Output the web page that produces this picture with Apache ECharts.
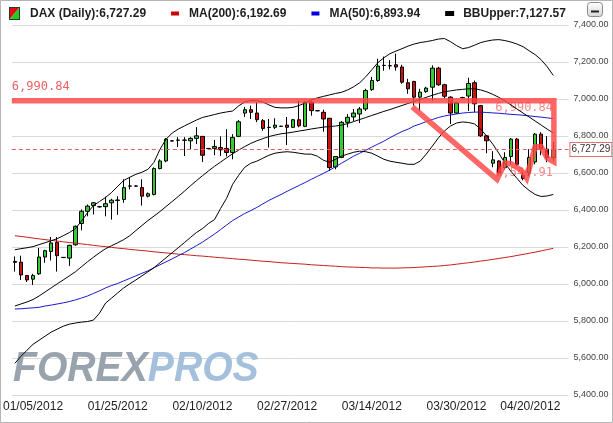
<!DOCTYPE html>
<html><head><meta charset="utf-8">
<script src="https://cdn.jsdelivr.net/npm/echarts/dist/echarts.min.js"></script>
<style>html,body{margin:0;padding:0;background:#fff}#c{width:613px;height:423px}</style>
</head><body><div id="c"></div>
<script>
// ---- data ----
const tickIndex  = [3, 17, 31, 45, 59, 73, 89];
const tickLabels = ['01/05/2012','01/25/2012','02/10/2012','02/27/2012','03/14/2012','03/30/2012','04/20/2012'];

const open = [6122,6118,6046,6026,6055,6146,6176,6225,6144,6140,
 6212,6327,6393,6424,6418,6418,6439,6454,6457,6529,
 6530,6521,6475,6484,6624,6665,6774,6778,6777,6774,
 6787,6798,6733,6733,6738,6733,6711,6798,6924,6942,
 6924,6883,6847,6847,6852,6859,6847,6888,6852,6983,
 6937,6928,6896,6633,6684,6874,6903,6919,6946,7051,
 7100,7182,7180,7185,7173,7088,7095,7010,7040,7064,
 7167,7077,7010,6924,7008,7016,7088,6964,6801,6653,
 6665,6629,6689,6783,6587,6602,6660,6810,6729,6684];
const close = [6117,6049,6022,6046,6146,6180,6222,6153,6143,6209,
 6312,6393,6421,6439,6417,6434,6453,6452,6521,6530,
 6529,6475,6488,6624,6665,6783,6773,6777,6778,6787,
 6801,6696,6732,6743,6725,6711,6792,6877,6942,6928,
 6888,6841,6846,6859,6853,6847,6888,6855,6983,6937,
 6936,6892,6629,6689,6874,6901,6924,6946,7046,7100,
 7178,7181,7179,7173,7091,7055,7010,7037,7059,7167,
 7077,7015,6924,6979,7007,7084,6974,6801,6774,6671,
 6602,6684,6783,6647,6570,6684,6810,6729,6684,6727.29];
const low = [6067,6022,6011,5995,6049,6115,6127,6067,6140,6098,
 6207,6290,6366,6376,6413,6366,6348,6374,6439,6511,
 6527,6424,6468,6479,6620,6658,6771,6740,6692,6729,
 6756,6660,6730,6696,6692,6689,6674,6794,6903,6892,
 6875,6828,6738,6837,6850,6751,6843,6847,6848,6910,
 6934,6823,6611,6620,6680,6847,6881,6870,6935,7044,
 7093,7153,7160,7153,7082,7028,6964,6937,7033,6991,
 7071,7004,6865,6919,7004,6935,6928,6794,6707,6631,
 6593,6620,6647,6636,6560,6587,6647,6696,6658,6663];
const high = [6149,6153,6049,6055,6195,6185,6254,6254,6146,6212,
 6316,6403,6430,6442,6422,6472,6461,6475,6566,6578,
 6533,6566,6495,6631,6674,6789,6777,6794,6794,6794,
 6848,6799,6735,6779,6798,6837,6810,6886,6957,6964,
 6983,6892,6892,6896,6855,6903,6892,6991,6991,6991,
 6939,6942,6897,6692,6881,6918,6946,6957,7055,7120,
 7218,7229,7210,7245,7185,7109,7098,7055,7066,7182,
 7174,7082,7015,6984,7012,7115,7100,6968,6805,6718,
 6669,6712,6789,6789,6604,6729,6816,6821,6799,6767];

const ma200 = [6261,6257,6253,6248,6244,6240,6236,6232,6228,6224,
 6221,6217,6213,6209,6205,6202,6198,6194,6191,6187,
 6184,6181,6178,6174,6171,6168,6165,6161,6159,6156,
 6153,6151,6148,6145,6142,6140,6137,6134,6132,6129,
 6126,6123,6121,6118,6115,6113,6111,6109,6107,6104,
 6102,6100,6098,6096,6094,6092,6091,6090,6089,6087,
 6087,6086,6086,6086,6087,6088,6089,6091,6093,6095,
 6097,6100,6103,6107,6111,6115,6119,6124,6128,6133,
 6138,6143,6148,6154,6160,6166,6172,6179,6186,6192.69];
const ma50 = [5865,5866,5869,5871,5874,5881,5886,5892,5898,5905,
 5914,5924,5935,5949,5963,5979,5992,6003,6017,6030,
 6044,6058,6071,6088,6104,6120,6136,6153,6169,6188,
 6207,6226,6248,6270,6294,6319,6343,6362,6381,6397,
 6414,6433,6452,6468,6484,6501,6517,6533,6549,6566,
 6582,6598,6615,6634,6653,6672,6691,6707,6723,6740,
 6756,6772,6791,6808,6824,6837,6854,6865,6878,6889,
 6900,6908,6914,6919,6924,6927,6929,6929,6927,6925,
 6923,6920,6917,6915,6912,6909,6905,6902,6898,6893.94];
const bbUpper = [6185,6191,6196,6202,6213,6223,6234,6245,6261,6278,
 6299,6340,6385,6424,6446,6468,6495,6528,6560,6577,
 6593,6604,6620,6658,6729,6783,6816,6837,6854,6870,
 6886,6900,6908,6916,6924,6930,6935,6963,6984,6992,
 6991,6984,6968,6955,6952,6952,6955,6965,6979,6995,
 7006,7014,7022,7030,7036,7049,7066,7088,7120,7158,
 7196,7223,7245,7259,7272,7286,7297,7305,7310,7316,
 7324,7327,7310,7289,7272,7278,7291,7305,7313,7319,
 7321,7316,7308,7297,7283,7261,7240,7212,7174,7127.57];
const bbMiddle = [5881,5892,5903,5916,5935,5957,5979,6001,6022,6044,
 6066,6093,6120,6145,6169,6191,6207,6223,6240,6261,
 6289,6316,6343,6367,6392,6419,6446,6473,6501,6530,
 6558,6585,6611,6636,6659,6682,6704,6724,6743,6760,
 6774,6786,6797,6805,6812,6816,6821,6827,6832,6838,
 6843,6848,6851,6854,6859,6867,6878,6889,6900,6911,
 6922,6933,6943,6954,6965,6976,6987,6998,7009,7020,
 7030,7039,7044,7049,7052,7055,7055,7049,7039,7025,
 7009,6990,6968,6946,6924,6903,6881,6859,6837,6816];
const bbLower = [5571,5609,5642,5674,5696,5718,5740,5756,5772,5783,
 5789,5794,5797,5805,5843,5897,5924,5952,5979,6001,
 6022,6044,6066,6088,6115,6142,6169,6196,6223,6251,
 6278,6299,6327,6348,6408,6463,6539,6588,6631,6653,
 6664,6680,6696,6707,6712,6715,6712,6707,6702,6702,
 6691,6669,6658,6674,6691,6702,6712,6718,6715,6707,
 6691,6674,6664,6658,6653,6647,6647,6664,6702,6745,
 6789,6827,6854,6870,6876,6873,6865,6837,6799,6756,
 6707,6653,6609,6571,6533,6506,6484,6473,6476,6484];

const lastClose = 6727.29;
const resistance = 6990.84;
// hand-drawn pattern (x in candle-index units, y in index points)
const patternX = [65.7, 79.7, 81.0, 82.0, 83.8, 84.6, 86.0, 87.0, 88.0, 89.1, 89.1, -0.5];
const patternY = [6957, 6566, 6654, 6650, 6612, 6572, 6742, 6742, 6680, 6660, resistance, resistance];
const noteX = [-0.5, 88.96, 88.96];
const noteY = [7065, 6951, 6600];
const noteText = ['6,990.84', '6,990.84', '6,540.91'];

const legendNames  = ['DAX (Daily)', 'MA(200)', 'MA(50)', 'BBUpper'];
const legendValues = ['6,727.29', '6,192.69', '6,893.94', '7,127.57'];

// ---- build ----
const N = 92;
const categories = Array.from({length: N}, (_, i) => String(i));
const ohlc = open.map((o, i) => [o, close[i], low[i], high[i]]);

function svgIcon(body){
  return 'image://data:image/svg+xml;utf8,' + encodeURIComponent(
    '<svg xmlns="http://www.w3.org/2000/svg" width="16" height="13" viewBox="0 0 16 13">' + body + '</svg>');
}
const icons = [
  svgIcon('<polygon points="0.5,0.5 10.5,0.5 0.5,12.5" fill="#e01010"/><polygon points="10.5,0.5 10.5,12.5 0.5,12.5" fill="#22cc22"/><rect x="0.5" y="0.5" width="10" height="12" fill="none" stroke="#333" stroke-width="1"/>'),
  svgIcon('<rect x="3" y="4.5" width="8" height="4" fill="#cc0000"/>'),
  svgIcon('<rect x="3" y="4.5" width="8" height="4" fill="#0000dd"/>'),
  svgIcon('<rect x="3" y="4" width="9" height="5" fill="#000"/>')
];

const fmtNum = v => v.toLocaleString('en-US', {minimumFractionDigits: 2, maximumFractionDigits: 2});

const chart = echarts.init(document.getElementById('c'), null, {renderer: 'canvas'});
chart.setOption({
  animation: false,
  backgroundColor: '#ffffff',
  textStyle: {fontFamily: 'Liberation Sans'},
  grid: {left: 10, right: 44.6, top: 25, bottom: 28, show: true, borderColor: '#e6e6e6', borderWidth: 0, backgroundColor: '#fff'},
  legend: {
    left: 4, top: 2, itemWidth: 16, itemHeight: 13, itemGap: 22, selectedMode: false,
    data: legendNames.map((n, i) => ({name: n, icon: icons[i]})),
    formatter: n => n + ':' + legendValues[legendNames.indexOf(n)],
    textStyle: {fontFamily: 'Liberation Sans', fontWeight: 'bold', fontSize: 12, color: '#1e1e1e'}
  },
  xAxis: [{
    type: 'category', data: categories, boundaryGap: true,
    axisLine: {show: false}, axisTick: {show: false}, splitLine: {show: false},
    axisLabel: {
      interval: (i) => tickIndex.indexOf(i) >= 0,
      formatter: (v, i) => {
        const k = tickIndex.indexOf(Number(v));
        if (k < 0) return '';
        return k === tickIndex.length - 1 ? '{last|' + tickLabels[k] + '}' : tickLabels[k];
      },
      rich: {last: {padding: [0, 46, 0, 0], fontSize: 12, color: '#222', fontFamily: 'Liberation Sans'}},
      fontSize: 12, color: '#222', margin: 6, fontFamily: 'Liberation Sans'
    }
  }, {type: 'value', min: -0.5, max: N - 0.5, show: false}],
  yAxis: {
    type: 'value', position: 'right', min: 5400, max: 7400, interval: 200, scale: false,
    axisLine: {show: false}, axisTick: {show: false},
    splitLine: {lineStyle: {color: '#d9d9d9', width: 1}},
    axisLabel: {formatter: fmtNum, fontSize: 9, color: '#444', margin: 5, fontFamily: 'Liberation Sans'}
  },
  graphic: [
    {type: 'rect', z: 100, silent: true, shape: {x: 0.5, y: 0.5, width: 612, height: 422}, style: {fill: 'none', stroke: '#b5b5b5', lineWidth: 1}},
    {type: 'text', z: 1, silent: true, x: 13, y: 348, scaleX: 0.91,
      style: {text: '{a|FOREX}{b|PROS}', font: 'italic bold 43px "Liberation Sans"',
        rich: {a: {fill: '#98a3ae', font: 'italic bold 43px "Liberation Sans"'}, b: {fill: '#a4c0dd', font: 'italic bold 43px "Liberation Sans"'}}}},
    {type: 'rect', z: 100, silent: true, shape: {x: 587.5, y: 2.5, width: 15, height: 14, r: 3},
      style: {fill: new echarts.graphic.LinearGradient(0, 0, 0, 1, [{offset: 0, color: '#ffffff'}, {offset: 1, color: '#d6d6d6'}]), stroke: '#8a8a8a', lineWidth: 1}},
    {type: 'rect', z: 101, silent: true, shape: {x: 591, y: 10.5, width: 8, height: 2}, style: {fill: '#222'}}
  ],
  series: [
    {
      name: 'DAX (Daily)', type: 'candlestick', data: ohlc, barWidth: 4, z: 3,
      itemStyle: {color: '#33cc33', color0: '#cc1111', borderColor: '#000', borderColor0: '#000', borderWidth: 1},
      markLine: {
        silent: true, symbol: 'none', animation: false,
        lineStyle: {color: '#e06060', type: [4, 3], width: 1},
        label: {position: 'end', formatter: fmtNum(lastClose), backgroundColor: '#fff', borderColor: '#e07070', borderWidth: 1,
          padding: [2, 1, 1, 1], color: '#333', fontSize: 10, distance: 2, fontFamily: 'Liberation Sans'},
        data: [{yAxis: lastClose}]
      }
    },
    {name: 'MA(200)', type: 'line', data: ma200, symbol: 'none', z: 4, lineStyle: {color: '#c81e1e', width: 1}, itemStyle: {color: '#c81e1e'}},
    {name: 'MA(50)', type: 'line', data: ma50, symbol: 'none', z: 4, lineStyle: {color: '#1a1acc', width: 1}, itemStyle: {color: '#1a1acc'}},
    {name: 'BBUpper', type: 'line', data: bbUpper, symbol: 'none', z: 4, lineStyle: {color: '#000', width: 1}, itemStyle: {color: '#000'}},
    {name: 'BBMiddle', type: 'line', data: bbMiddle, symbol: 'none', z: 4, lineStyle: {color: '#000', width: 1}},
    {name: 'BBLower', type: 'line', data: bbLower, symbol: 'none', z: 4, lineStyle: {color: '#000', width: 1}},
    {
      name: 'pattern', type: 'scatter', xAxisIndex: 1, symbolSize: 0, z: 2, silent: true,
      data: noteX.map((x, i) => ({
        value: [x, noteY[i]],
        label: {show: true, position: [0, 0], formatter: noteText[i], align: i === 0 ? 'left' : 'right', verticalAlign: 'middle',
          color: i === 0 ? '#e23a3a' : '#f06a6a', fontSize: 12, fontFamily: 'DejaVu Sans Mono'}
      }))
    },
    {
      name: 'drawing', type: 'line', xAxisIndex: 1, symbol: 'none', z: 6, silent: true,
      data: patternX.map((x, i) => [x, patternY[i]]),
      lineStyle: {color: 'rgba(255,70,70,0.82)', width: 5.5, join: 'miter', cap: 'butt'}
    }
  ]
});
</script></body></html>
